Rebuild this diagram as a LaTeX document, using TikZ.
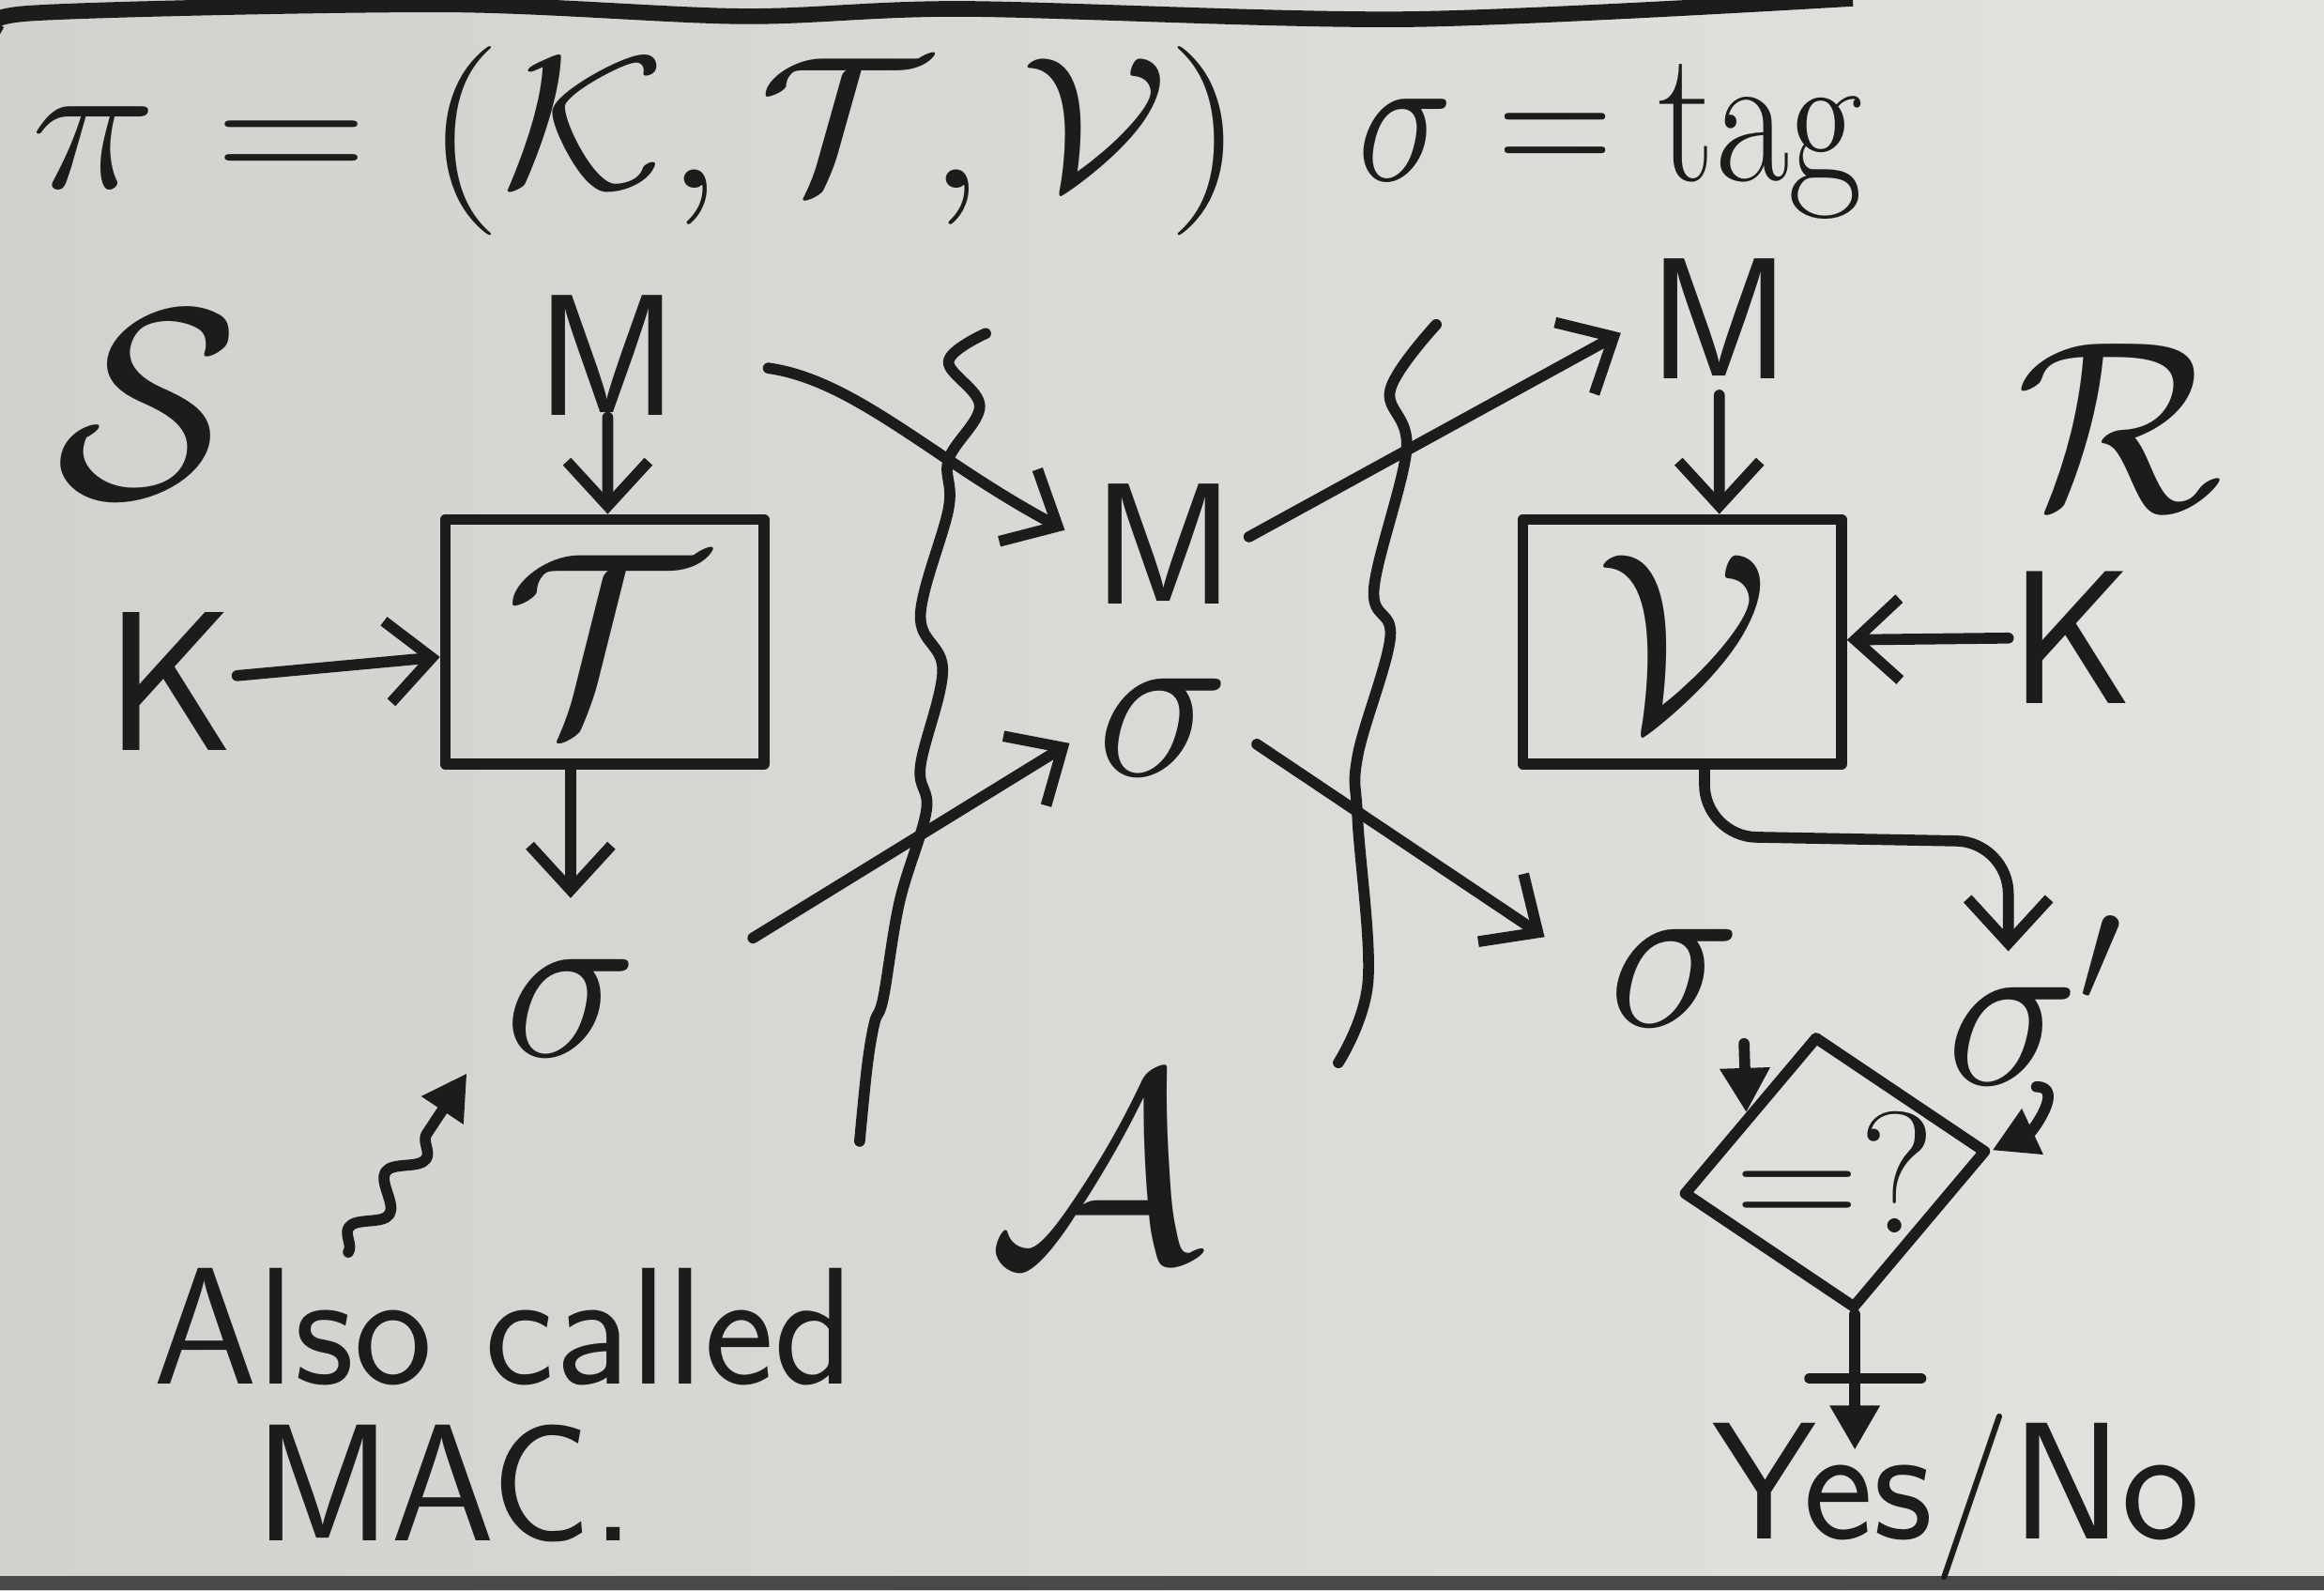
\documentclass[tikz,border=0pt]{standalone}
\usepackage{amsmath}
\usepackage{tikz}
\usetikzlibrary{arrows.meta,shapes.geometric,decorations.pathmorphing}

\definecolor{paperL}{RGB}{211,209,205}
\definecolor{paperR}{RGB}{227,226,223}
\definecolor{inkc}{RGB}{28,28,28}

\begin{document}
\begin{tikzpicture}[x=1cm, y=1cm,
  ink/.style={draw=inkc, line width=2.1pt, line cap=round, line join=round},
  arr/.style={ink, -{Straight Barb[length=3mm,width=5.5mm,line width=2.1pt]}},
  farr/.style={ink, -{Triangle[length=3mm,width=3.2mm]}},
  sym/.style={text=inkc, inner sep=0pt, font=\fontsize{20.74}{24}\selectfont, scale=1.6, transform shape},
  sig/.style={sym, scale=1.3},
  lbl/.style={sym, scale=1.45},
  big/.style={text=inkc, inner sep=0pt, font=\fontsize{20.74}{24}\selectfont, scale=2.5, transform shape},
  title/.style={text=inkc, inner sep=0pt, font=\fontsize{20.74}{24}\selectfont, scale=1.75, transform shape},
  txt/.style={text=inkc, inner sep=0pt, font=\sffamily\fontsize{32}{34}\selectfont},
  blk/.style={ink, minimum width=2.15cm, minimum height=1.65cm},
  cmp/.style={ink, diamond, inner sep=0pt, minimum width=2.07cm, minimum height=1.86cm, rotate=8}]

% paper
\shade[left color=paperL, right color=paperR] (0,0) rectangle (15.68,10.73);
\useasboundingbox (0,0) rectangle (15.68,10.73);
\draw[inkc, line width=3pt] plot[smooth] coordinates {(0,10.50) (0.2,10.64) (3,10.70) (5,10.62) (6.5,10.67) (9.5,10.60) (12.5,10.74)};
\fill[inkc!80] (0,0) rectangle (15.68,0.1);

% Heading
\node[title, xscale=1.12] (defn)   at (4.3,9.78)  {$\pi=(\mathcal{K},\mathcal{T},\mathcal{V})$};
\node[title, xscale=0.85] (tagdef) at (10.87,9.78) {$\sigma=\mathrm{tag}$};

% sender
\node[big] (snd)    at (1.0,8.0)   {$\mathcal{S}$};
\node[sym] (msgS)   at (4.1,8.33)  {\textsf{M}};
\node[blk] (tagbox) at (4.08,6.4)  {};
\node[lbl]          at (tagbox)    {$\mathcal{T}$};
\node[sym, scale=1.15] (keyS) at (1.15,6.13) {\textsf{K}};
\node[sig] (sigS)   at (3.85,3.93) {$\sigma$};

\draw[arr] (msgS) -- (msgS |- tagbox.north);
\draw[arr] (keyS) -- (tagbox);
\draw[arr, shorten >=4mm] (tagbox.south -| sigS) -- (sigS);

% note
\node[txt] (note1) at (3.4,1.78) {Also called};
\node[txt] (note2) at (3.0,0.72) {MAC.};
\draw[farr, decorate, decoration={snake, amplitude=0.9mm, segment length=4.5mm, post length=4mm}]
  ([xshift=-1.05cm,yshift=1mm]note1.north) -- ([xshift=-0.7cm,yshift=-1mm]sigS.south);

% channel
\draw[ink] plot[smooth, tension=0.6] coordinates {(6.65,8.48) (6.40,8.29) (6.61,7.99) (6.40,7.63) (6.40,7.30) (6.21,6.58) (6.36,6.21) (6.21,5.56) (6.25,5.26) (6.07,4.65) (5.96,4.00) (5.90,3.83) (5.85,3.53) (5.80,3.03)};
\draw[ink] plot[smooth, tension=0.6] coordinates {(9.69,8.54) (9.38,8.10) (9.49,7.70) (9.27,6.76) (9.38,6.43) (9.16,5.63) (9.16,5.20) (9.23,4.11) (9.03,3.56)};

% adversary
\node[sym] (msgA) at (7.85,7.06) {\textsf{M}};
\node[sig] (sigA) at (7.85,5.82) {$\sigma$};
\node[big] (adv)  at (7.4,2.85)  {$\mathcal{A}$};

\draw[arr, shorten <=6mm, shorten >=2mm] (msgS.east) to[out=-8,in=152] (msgA.west);
\draw[arr, shorten <=9mm, shorten >=2mm] (sigS.east) -- (sigA.west);

% receiver
\node[sym] (msgR)   at (11.6,8.58)  {\textsf{M}};
\node[big, scale=0.9] (rcv) at (14.3,7.85) {$\mathcal{R}$};
\node[blk] (vfybox) at (11.35,6.4)  {};
\node[lbl]          at (vfybox)     {$\mathcal{V}$};
\node[sym, scale=1.1] (keyR) at (13.98,6.43) {\textsf{K}};
\node[sig] (sigR)   at (11.3,4.13)  {$\sigma$};
\node[sig] (sigP)   at (13.74,3.98) {$\sigma'$};
\node[cmp] (eqt)    at (12.38,2.82) {};
\node[sym]          at (eqt)        {$=?$};
\node[txt] (verdict) at (13.2,0.63) {Yes/No};
\coordinate (bend) at (13.55,5.05);
\coordinate (sigPtop) at ([yshift=-2.5mm]sigP.north);

\draw[arr, shorten <=1mm, shorten >=2mm] (msgA.east) -- (msgR.west);
\draw[arr, shorten <=1mm] (msgR) -- (msgR |- vfybox.north);
\draw[arr] (keyR) -- (vfybox);
\draw[arr, shorten <=2mm, shorten >=5mm] (sigA.east) -- (sigR.west);
\draw[arr, rounded corners=0.35cm] ([xshift=1.5mm]vfybox.south) -- ++(0,-0.45) -- (bend) -- (sigPtop -| bend);
\draw[farr, shorten <=1mm] (sigR.south east) -- (eqt.north west);
\draw[farr, shorten <=1mm] ([xshift=-1mm]sigP.south) to[out=0,in=25,looseness=1.6] (eqt.east);
\draw[farr] (eqt.south) -- ([yshift=-2.5mm]eqt.south |- verdict.north);
\draw[ink] (12.21,1.43) -- (12.96,1.43);

\end{tikzpicture}
\end{document}
